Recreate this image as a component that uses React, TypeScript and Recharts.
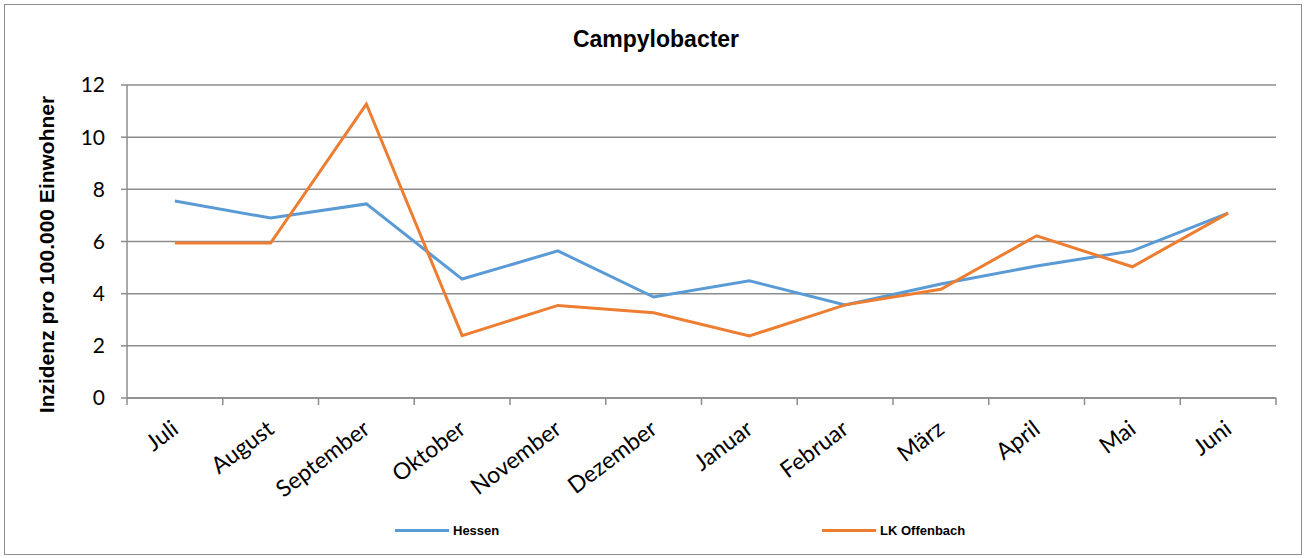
import { CartesianGrid, Legend, Line, LineChart, XAxis, YAxis } from "recharts";

const months = [
  "Juli",
  "August",
  "September",
  "Oktober",
  "November",
  "Dezember",
  "Januar",
  "Februar",
  "März",
  "April",
  "Mai",
  "Juni",
];
const hessen = [7.55, 6.9, 7.44, 4.56, 5.64, 3.87, 4.49, 3.57, 4.37, 5.06, 5.64, 7.09];
const offenbach = [5.94, 5.94, 11.27, 2.39, 3.55, 3.27, 2.38, 3.57, 4.17, 6.22, 5.03, 7.09];
const yTicks = [0, 2, 4, 6, 8, 10, 12];

const data = months.map((name, i) => ({
  name,
  hessen: hessen[i],
  offenbach: offenbach[i],
}));

const BLUE = "#5B9BD5";
const ORANGE = "#ED7D31";
const GRID = "#8c8c8c";

function MonthTick(props: any) {
  const { x, y, payload, index } = props;
  const half = payload.offset || 0;
  const ax = x + 5;
  const ay = y + 26;
  return (
    <g>
      <line x1={x - half} y1={y - 8} x2={x - half} y2={y - 1} stroke={GRID} strokeWidth={1.5} />
      {index === months.length - 1 && (
        <line x1={x + half} y1={y - 8} x2={x + half} y2={y - 1} stroke={GRID} strokeWidth={1.5} />
      )}
      <text
        x={ax}
        y={ay}
        textAnchor="end"
        transform={`rotate(-37, ${ax}, ${ay})`}
        fontFamily="Lato, sans-serif"
        fontSize={23}
        fill="#000"
      >
        {payload.value}
      </text>
    </g>
  );
}

function AxisTitle(props: any) {
  const vb = props.viewBox || { y: 85, height: 313 };
  const cx = 54;
  const cy = vb.y + vb.height / 2 + 13;
  return (
    <text
      x={cx}
      y={cy}
      textAnchor="middle"
      transform={`rotate(-90, ${cx}, ${cy})`}
      fontFamily="'Liberation Sans', Arial, sans-serif"
      fontWeight="bold"
      fontSize={21}
      fill="#000"
    >
      Inzidenz pro 100.000 Einwohner
    </text>
  );
}

function ChartLegend() {
  const item = (color: string, label: string, left: number) => (
    <div
      style={{
        position: "absolute",
        left,
        top: 25,
        display: "flex",
        alignItems: "center",
        gap: 4,
      }}
    >
      <div style={{ width: 54, height: 3, background: color }} />
      <span
        style={{
          fontFamily: "'Liberation Sans Narrow', 'Liberation Sans', sans-serif",
          fontWeight: "bold",
          fontSize: 13,
          color: "#000",
        }}
      >
        {label}
      </span>
    </div>
  );
  return (
    <div style={{ position: "relative", width: 1306, height: 40 }}>
      {item(BLUE, "Hessen", 328)}
      {item(ORANGE, "LK Offenbach", 755)}
    </div>
  );
}

export default function App() {
  return (
    <div style={{ position: "absolute", left: 0, top: 0, width: 1306, height: 558, background: "#fff" }}>
      <div
        style={{
          position: "absolute",
          left: 4,
          top: 4,
          width: 1298,
          height: 551,
          border: "1px solid #8c8c8c",
          boxSizing: "border-box",
        }}
      />
      <div
        style={{
          position: "absolute",
          left: 0,
          top: 26,
          width: 1312,
          textAlign: "center",
          fontFamily: "'Liberation Sans', Arial, sans-serif",
          fontWeight: "bold",
          fontSize: 23,
        }}
      >
        Campylobacter
      </div>
      <div style={{ position: "absolute", left: 0, top: 0 }}>
        <LineChart
          width={1306}
          height={558}
          data={data}
          margin={{ top: 85, right: 30, left: 67, bottom: 20 }}
        >
          <CartesianGrid vertical={false} stroke={GRID} strokeWidth={1.5} />
          <XAxis
            dataKey="name"
            scale="band"
            interval={0}
            height={100}
            axisLine={{ stroke: GRID, strokeWidth: 1.5 }}
            tickLine={false}
            tick={<MonthTick />}
          />
          <YAxis
            width={60}
            domain={[0, 12]}
            ticks={yTicks}
            interval={0}
            axisLine={{ stroke: GRID, strokeWidth: 1.5 }}
            tickLine={{ stroke: GRID, strokeWidth: 1.5 }}
            tickSize={6}
            tickMargin={16}
            tick={{ fontFamily: "Lato, sans-serif", fontSize: 21, fill: "#000" }}
            label={<AxisTitle />}
          />
          <Legend verticalAlign="bottom" content={<ChartLegend />} />
          <Line
            type="linear"
            dataKey="hessen"
            name="Hessen"
            stroke={BLUE}
            strokeWidth={3}
            dot={false}
            isAnimationActive={false}
          />
          <Line
            type="linear"
            dataKey="offenbach"
            name="LK Offenbach"
            stroke={ORANGE}
            strokeWidth={3}
            dot={false}
            isAnimationActive={false}
          />
        </LineChart>
      </div>
    </div>
  );
}
